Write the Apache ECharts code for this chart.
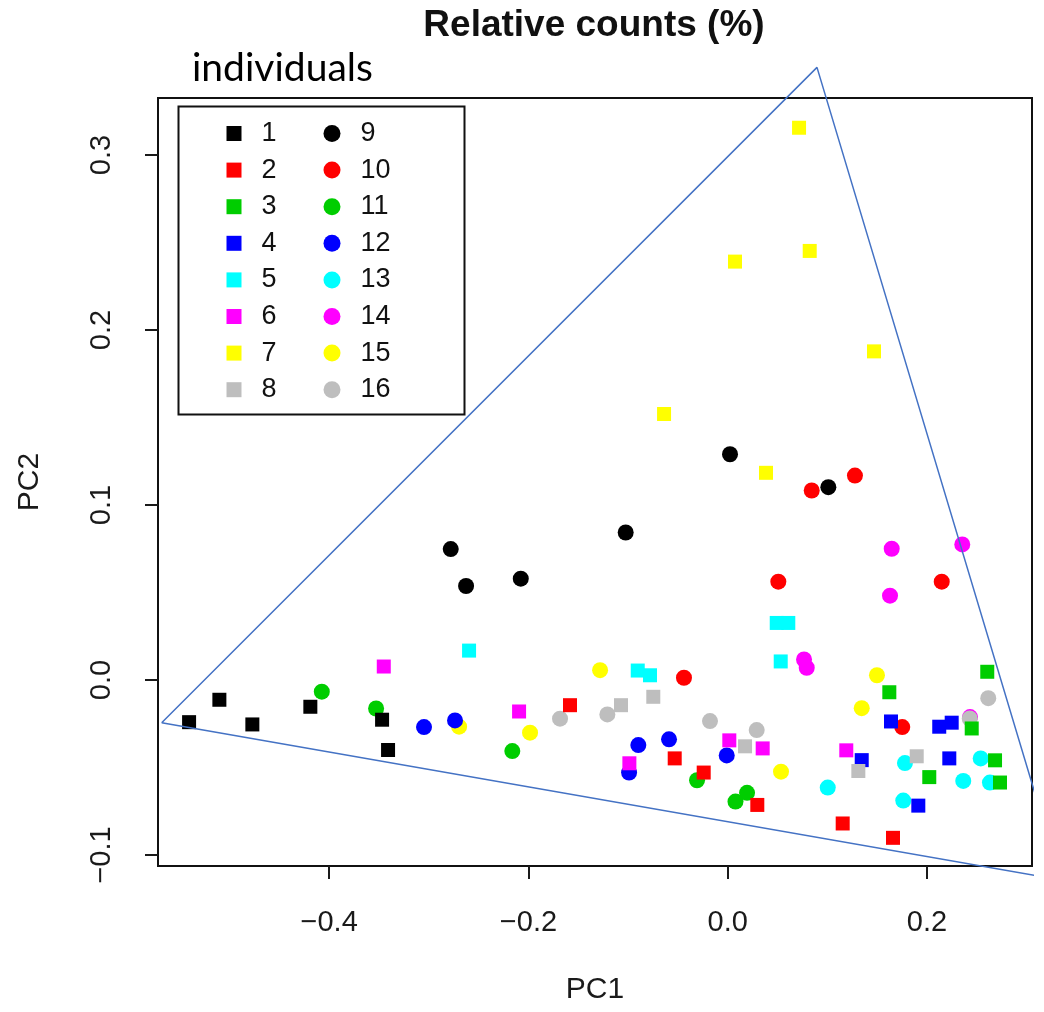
<!DOCTYPE html>
<html>
<head>
<meta charset="utf-8">
<script src="https://cdn.jsdelivr.net/npm/echarts@6/dist/echarts.min.js"></script>
<style>
  html, body { margin: 0; padding: 0; background: #ffffff; overflow: hidden; }
  #chart { width: 1044px; height: 1012px; }
</style>
</head>
<body>
<div id="chart"></div>
<script>
// PCA scores (PC1, PC2) of each sample, grouped by individual
const ind1  = [[-0.5406, -0.0241], [-0.5102, -0.0113], [-0.4771, -0.0254], [-0.4189, -0.0153], [-0.3469, -0.0227], [-0.3409, -0.0400]];
const ind2  = [[-0.1583, -0.0144], [-0.0532, -0.0448], [-0.0241, -0.0529], [0.0297, -0.0714], [0.1154, -0.0820], [0.1659, -0.0902]];
const ind3  = [[0.1622, -0.0070], [0.2449, -0.0277], [0.2605, 0.0047], [0.2023, -0.0555], [0.2683, -0.0459], [0.2733, -0.0586]];
const ind4  = [[0.1639, -0.0237], [0.2123, -0.0267], [0.2248, -0.0244], [0.1345, -0.0458], [0.2224, -0.0448], [0.1913, -0.0718]];
const ind5  = [[-0.2596, 0.0168], [-0.0903, 0.0054], [-0.0780, 0.0027], [0.0492, 0.0326], [0.0608, 0.0326], [0.0532, 0.0106]];
const ind6  = [[-0.3452, 0.0077], [-0.2094, -0.0180], [-0.0987, -0.0476], [0.0016, -0.0345], [0.0351, -0.0391], [0.1190, -0.0402]];
const ind7  = [[0.0716, 0.3156], [0.0823, 0.2452], [0.0073, 0.2391], [0.1468, 0.1878], [-0.0639, 0.1520], [0.0384, 0.1184]];
const ind8  = [[-0.1071, -0.0144], [-0.0747, -0.0096], [0.0174, -0.0379], [0.1311, -0.0520], [0.1897, -0.0436]];
const ind9  = [[-0.2780, 0.0748], [-0.2626, 0.0537], [-0.2077, 0.0579], [-0.1024, 0.0843], [0.0023, 0.1290], [0.1010, 0.1102]];
const ind10 = [[-0.0439, 0.0013], [0.0508, 0.0562], [0.0843, 0.1083], [0.1277, 0.1168], [0.2148, 0.0562], [0.1752, -0.0269]];
const ind11 = [[-0.4074, -0.0067], [-0.3529, -0.0163], [-0.2162, -0.0406], [-0.0308, -0.0573], [0.0078, -0.0695], [0.0194, -0.0645]];
const ind12 = [[-0.3048, -0.0269], [-0.2737, -0.0231], [-0.0990, -0.0529], [-0.0897, -0.0372], [-0.0589, -0.0339], [-0.0010, -0.0431]];
const ind13 = [[0.1004, -0.0615], [0.1779, -0.0475], [0.1762, -0.0689], [0.2539, -0.0448], [0.2364, -0.0577], [0.2632, -0.0586]];
const ind14 = [[0.0766, 0.0117], [0.0793, 0.0070], [0.1646, 0.0750], [0.2354, 0.0775], [0.1629, 0.0482], [0.2432, -0.0212]];
const ind15 = [[-0.2696, -0.0267], [-0.1984, -0.0301], [-0.1281, 0.0056], [0.0535, -0.0524], [0.1345, -0.0161], [0.1498, 0.0027]];
const ind16 = [[-0.1683, -0.0221], [-0.1208, -0.0197], [-0.0178, -0.0235], [0.0291, -0.0286], [0.2429, -0.0220], [0.2615, -0.0104]];

const individualNames = ['1', '2', '3', '4', '5', '6', '7', '8', '9', '10', '11', '12', '13', '14', '15', '16'];
const individualData = [ind1, ind2, ind3, ind4, ind5, ind6, ind7, ind8, ind9, ind10, ind11, ind12, ind13, ind14, ind15, ind16];

// Hand-drawn outline enclosing the samples (PC1, PC2 corners)
const outlineCorners = [[-0.5681, -0.0244], [0.0896, 0.3501], [0.3345, -0.1143], [-0.5681, -0.0244]];

// Axis tick positions
const xTicks = [-0.4, -0.2, 0.0, 0.2];
const yTicks = [-0.1, 0.0, 0.1, 0.2, 0.3];

const palette = ['#000000', '#FF0000', '#00CD00', '#0000FF', '#00FFFF', '#FF00FF', '#FFFF00', '#BEBEBE'];
const FONT = '"Liberation Sans", Arial, Helvetica, sans-serif';

const fmt = v => (v < -1e-9 ? '\u2212' : '') + Math.abs(v).toFixed(1);

const pointSeries = individualData.map((d, i) => {
  const square = i < 8;
  let z = square ? 4 : 3;
  if (individualNames[i] === '12') z = 3.5;
  return {
    type: 'scatter',
    name: individualNames[i],
    data: d,
    symbol: square ? 'rect' : 'circle',
    symbolSize: square ? 14 : 16,
    itemStyle: { color: palette[i % 8], opacity: 1 },
    emphasis: { disabled: true },
    z: z
  };
});

const outlineSeries = {
  type: 'line',
  name: 'outline',
  data: outlineCorners,
  symbol: 'none',
  clip: false,
  lineStyle: { color: '#4472C4', width: 1.5 },
  emphasis: { disabled: true },
  z: 10
};

const legendCommon = {
  orient: 'vertical',
  top: 115,
  itemGap: 9.6,
  selectedMode: false,
  textStyle: { fontSize: 27, fontFamily: FONT, color: '#111', lineHeight: 27, padding: [0, 0, 0, 15] }
};

const option = {
  animation: false,
  backgroundColor: '#ffffff',
  grid: {
    left: 158, right: 12, top: 98, bottom: 146,
    show: true, borderColor: '#111', borderWidth: 2,
    containLabel: false, outerBoundsMode: 'none'
  },
  legend: [
    Object.assign({}, legendCommon, { data: individualNames.slice(0, 8), left: 221.5, itemWidth: 15, itemHeight: 15 }),
    Object.assign({}, legendCommon, { data: individualNames.slice(8), left: 318.5, itemWidth: 17, itemHeight: 17 })
  ],
  xAxis: {
    type: 'value',
    min: -0.5718, max: 0.3054,
    name: 'PC1', nameLocation: 'middle', nameGap: 109,
    nameTextStyle: { fontSize: 30, fontFamily: FONT, color: '#1a1a1a' },
    axisLine: { show: false, onZero: false },
    splitLine: { show: false },
    axisTick: { show: true, length: 13, customValues: xTicks, lineStyle: { color: '#1a1a1a', width: 2 } },
    axisLabel: { customValues: xTicks, margin: 42, fontSize: 29, fontFamily: FONT, color: '#1a1a1a', formatter: fmt }
  },
  yAxis: {
    type: 'value',
    min: -0.1063, max: 0.3326,
    name: 'PC2', nameLocation: 'middle', nameGap: 113,
    nameTextStyle: { fontSize: 30, fontFamily: FONT, color: '#1a1a1a' },
    axisLine: { show: false, onZero: false },
    splitLine: { show: false },
    axisTick: { show: true, length: 13, customValues: yTicks, lineStyle: { color: '#1a1a1a', width: 2 } },
    axisLabel: { customValues: yTicks, rotate: 90, margin: 42, fontSize: 29, fontFamily: FONT, color: '#1a1a1a', formatter: fmt }
  },
  graphic: [
    {
      type: 'text', x: 594, y: 26, z: 20,
      style: { text: 'Relative counts (%)', align: 'center', verticalAlign: 'middle',
               font: 'bold 37px ' + FONT, fill: '#111' }
    },
    {
      type: 'text', x: 192, y: 68, z: 20,
      style: { text: 'individuals', align: 'left', verticalAlign: 'middle',
               font: '39px Lato, "Open Sans", sans-serif', fill: '#000' }
    },
    {
      type: 'rect', z: 5,
      shape: { x: 178.5, y: 106.5, width: 286, height: 308 },
      style: { fill: 'none', stroke: '#111', lineWidth: 2 }
    }
  ],
  series: pointSeries.concat([outlineSeries])
};

const chart = echarts.init(document.getElementById('chart'), null, { renderer: 'canvas' });
chart.setOption(option);
</script>
</body>
</html>
